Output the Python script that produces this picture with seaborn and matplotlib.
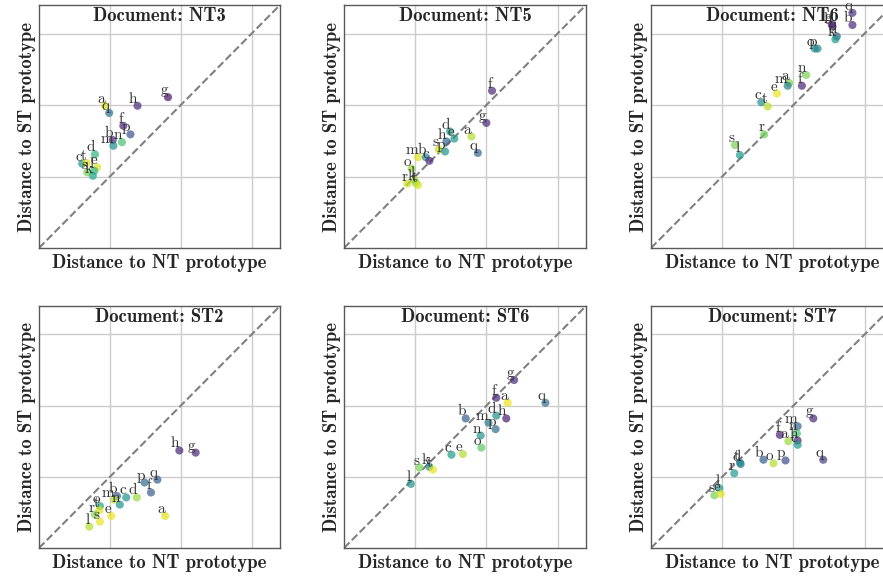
import matplotlib
matplotlib.use("Agg")
import matplotlib.pyplot as plt
import seaborn as sns
import pandas as pd

sns.set_style("whitegrid")
plt.rcParams["axes.unicode_minus"] = False

# distances (grid lines at 1, 2, 3)
NT3_labels = list("aqhgfpbmndctesl k".replace(" ", ""))
NT3_x = [0.93, 0.99, 1.39, 1.82, 1.19, 1.29, 1.04, 1.05, 1.17, 0.79, 0.61, 0.67, 0.82, 0.68, 0.78, 0.76]
NT3_y = [1.99, 1.89, 1.99, 2.11, 1.71, 1.59, 1.51, 1.43, 1.48, 1.31, 1.18, 1.19, 1.13, 1.06, 1.08, 1.01]
NT3_c = [0.95, 0.38, 0.12, 0.05, 0.10, 0.25, 0.12, 0.50, 0.70, 0.65, 0.50, 0.95, 0.95, 0.80, 0.65, 0.60]

NT5_labels = list("fgaqdehspmbcorlkt")
NT5_x = [2.08, 2.00, 1.79, 1.88, 1.49, 1.55, 1.44, 1.33, 1.42, 1.04, 1.15, 1.20, 0.95, 0.89, 0.99, 1.01, 1.04]
NT5_y = [2.20, 1.75, 1.56, 1.33, 1.63, 1.53, 1.49, 1.38, 1.35, 1.27, 1.27, 1.22, 1.11, 0.90, 0.95, 0.91, 0.88]
NT5_c = [0.12, 0.12, 0.88, 0.32, 0.55, 0.55, 0.32, 0.92, 0.50, 0.95, 0.45, 0.12, 0.85, 0.92, 0.90, 0.80, 0.95]

NT6_labels = list("qbghdkopnfamectrsl")
NT6_x = [2.83, 2.83, 2.54, 2.55, 2.61, 2.59, 2.30, 2.34, 2.18, 2.12, 1.94, 1.92, 1.77, 1.55, 1.64, 1.59, 1.18, 1.25]
NT6_y = [3.29, 3.12, 3.13, 3.10, 2.96, 2.92, 2.79, 2.79, 2.42, 2.27, 2.31, 2.27, 2.16, 2.04, 1.98, 1.59, 1.44, 1.30]
NT6_c = [0.15, 0.12, 0.10, 0.10, 0.30, 0.55, 0.50, 0.45, 0.80, 0.10, 0.80, 0.42, 0.97, 0.50, 0.90, 0.78, 0.80, 0.55]

ST2_labels = list("hgqpfdcbmnaeotrsl")
ST2_x = [1.98, 2.21, 1.67, 1.49, 1.58, 1.38, 1.23, 1.10, 1.06, 1.14, 1.78, 1.02, 0.86, 0.85, 0.79, 0.86, 0.71]
ST2_y = [1.37, 1.34, 0.96, 0.92, 0.78, 0.71, 0.71, 0.73, 0.68, 0.61, 0.45, 0.45, 0.59, 0.53, 0.47, 0.37, 0.30]
ST2_c = [0.10, 0.10, 0.30, 0.35, 0.28, 0.85, 0.52, 0.30, 0.90, 0.50, 0.95, 0.97, 0.60, 0.95, 0.82, 0.97, 0.88]

ST6_labels = list("gqfadhmpbnoecsktl")
ST6_x = [2.39, 2.83, 2.14, 2.30, 2.14, 2.28, 2.03, 2.13, 1.71, 1.92, 1.93, 1.67, 1.51, 1.06, 1.20, 1.25, 0.94]
ST6_y = [2.36, 2.04, 2.11, 2.04, 1.86, 1.82, 1.76, 1.67, 1.82, 1.58, 1.41, 1.32, 1.31, 1.13, 1.14, 1.10, 0.90]
ST6_c = [0.12, 0.35, 0.12, 0.97, 0.50, 0.08, 0.40, 0.35, 0.30, 0.52, 0.75, 0.88, 0.55, 0.80, 0.50, 0.97, 0.50]

ST7_labels = list("gmnfahcqpobdtrlse")
ST7_x = [2.28, 2.06, 2.05, 1.81, 1.93, 2.06, 2.06, 2.42, 1.89, 1.72, 1.58, 1.26, 1.25, 1.17, 0.96, 0.89, 0.98]
ST7_y = [1.82, 1.71, 1.61, 1.59, 1.50, 1.51, 1.45, 1.24, 1.23, 1.19, 1.24, 1.18, 1.20, 1.05, 0.84, 0.74, 0.76]
ST7_c = [0.12, 0.32, 0.70, 0.10, 0.85, 0.10, 0.55, 0.18, 0.22, 0.88, 0.30, 0.40, 0.45, 0.55, 0.55, 0.80, 0.95]

documents = ["NT3", "NT5", "NT6", "ST2", "ST6", "ST7"]
panels = [
    (NT3_labels, NT3_x, NT3_y, NT3_c),
    (NT5_labels, NT5_x, NT5_y, NT5_c),
    (NT6_labels, NT6_x, NT6_y, NT6_c),
    (ST2_labels, ST2_x, ST2_y, ST2_c),
    (ST6_labels, ST6_x, ST6_y, ST6_c),
    (ST7_labels, ST7_x, ST7_y, ST7_c),
]

W, H = 883, 578
# axes boxes in pixels (left, top, width, height); right column runs off the edge
boxes = [
    (39, 5, 241, 243), (344, 5, 242, 243), (651, 5, 242, 243),
    (39, 306, 241, 242), (344, 306, 242, 242), (651, 306, 242, 242),
]

fig = plt.figure(figsize=(W / 100, H / 100), dpi=100)

for doc, (labels, xs, ys, cs), (bx, by, bw, bh) in zip(documents, panels, boxes):
    ax = fig.add_axes([bx / W, 1 - (by + bh) / H, bw / W, bh / H])
    df = pd.DataFrame({"nt": xs, "st": ys, "val": cs, "label": labels})

    ax.axline((0, 0), slope=1, ls="--", color="gray", lw=1.5, zorder=2)
    sns.scatterplot(
        data=df, x="nt", y="st", hue="val", palette="viridis", hue_norm=(0, 1),
        s=34, alpha=0.7, linewidth=0, legend=False, ax=ax, zorder=3,
    )
    for _, row in df.iterrows():
        ax.text(row["nt"], row["st"], row["label"], ha="right", va="bottom",
                fontsize=11, family="cmr10", color="#333333", zorder=4)

    ax.set_xlim(0, 3.4)
    ax.set_ylim(0, 3.4)
    ax.set_xticks([1, 2, 3])
    ax.set_yticks([1, 2, 3])
    ax.tick_params(labelbottom=False, labelleft=False, length=0)
    ax.grid(color="#cccccc", lw=1)
    for sp in ax.spines.values():
        sp.set_color("0.35")
        sp.set_linewidth(1)

    ax.set_xlabel("Distance to NT prototype", family="cmb10", fontsize=13.5, labelpad=4)
    ax.set_ylabel("Distance to ST prototype", family="cmb10", fontsize=13.5, labelpad=2)
    ax.text(0.5, 0.99, f"Document: {doc}", transform=ax.transAxes, ha="center",
            va="top", family="cmb10", fontsize=13.5)

fig.savefig("out.png", dpi=100)
